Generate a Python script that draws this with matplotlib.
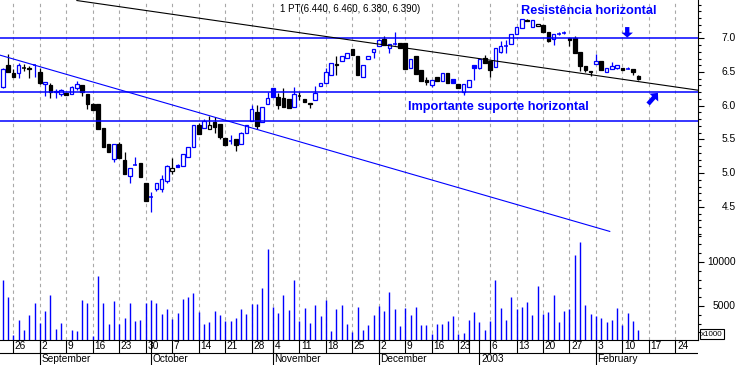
#!/usr/bin/env python3
"""
Grafico a candele giornaliere (ago 2002 - feb 2003) con i volumi sotto,
resistenza / supporto orizzontali e due linee di tendenza.
Salva la figura in out.png (738x365 px).
"""

import matplotlib
matplotlib.use("Agg")
import matplotlib.pyplot as plt
from matplotlib.patches import Rectangle

# --- DATI (una seduta per valore, indice 0 = 22 ago 2002) ---
opens = [6.27, 6.60, 6.49, 6.48, 6.56, 6.56, 6.60, 6.50, 6.32, 6.31,
         6.20, 6.17, 6.19, 6.18, 6.26, 6.31, 6.18, 6.03, 6.03, 5.67,
         5.43, 5.21, 5.43, 5.19, 4.96, 5.12, 5.15, 4.86, 4.64, 4.77,
         4.76, 4.89, 5.03, 5.12, 5.11, 5.24, 5.38, 5.71, 5.67, 5.65,
         5.76, 5.73, 5.52, 5.47, 5.50, 5.43, 5.60, 5.77, 5.90, 5.76,
         6.03, 6.26, 6.13, 6.11, 6.10, 5.98, 6.15, 6.10, 6.02, 6.09,
         6.29, 6.33, 6.45, 6.60, 6.66, 6.71, 6.84, 6.74, 6.43, 6.69,
         6.79, 6.89, 6.99, 6.85, 6.91, 6.93, 6.93, 6.56, 6.74, 6.53,
         6.38, 6.31, 6.43, 6.36, 6.48, 6.40, 6.32, 6.21, 6.27, 6.61,
         6.56, 6.71, 6.66, 6.57, 6.80, 6.88, 6.92, 7.06, 7.16, 7.27,
         7.17, 7.18, 7.20, 7.10, 6.99, 7.07, 7.08, 7.00, 7.00, 6.80,
         6.59, 6.50, 6.62, 6.66, 6.50, 6.55, 6.56, 6.56, 6.55, 6.55,
         6.44]
highs = [6.56, 6.76, 6.54, 6.64, 6.62, 6.59, 6.61, 6.56, 6.35, 6.33,
         6.25, 6.25, 6.19, 6.29, 6.37, 6.31, 6.18, 6.04, 6.03, 5.67,
         5.43, 5.43, 5.46, 5.32, 5.07, 5.24, 5.15, 4.86, 4.72, 4.86,
         4.97, 5.12, 5.23, 5.14, 5.29, 5.38, 5.72, 5.75, 5.80, 5.84,
         5.83, 5.73, 5.52, 5.56, 5.50, 5.61, 5.71, 6.01, 6.01, 5.98,
         6.20, 6.26, 6.19, 6.26, 6.10, 6.28, 6.21, 6.10, 6.04, 6.29,
         6.33, 6.56, 6.64, 6.73, 6.74, 6.78, 6.84, 6.74, 6.61, 6.74,
         6.84, 6.99, 7.04, 6.91, 7.10, 6.93, 6.93, 6.70, 6.74, 6.53,
         6.43, 6.38, 6.43, 6.48, 6.48, 6.40, 6.32, 6.32, 6.38, 6.61,
         6.70, 6.75, 6.66, 6.86, 6.96, 6.97, 7.06, 7.17, 7.28, 7.28,
         7.27, 7.21, 7.20, 7.10, 7.07, 7.10, 7.11, 7.00, 7.03, 6.80,
         6.59, 6.52, 6.76, 6.66, 6.56, 6.65, 6.61, 6.56, 6.58, 6.55,
         6.46]
lows = [6.26, 6.50, 6.42, 6.41, 6.52, 6.41, 6.43, 6.32, 6.15, 6.12,
        6.12, 6.15, 6.16, 6.17, 6.23, 6.15, 5.95, 5.93, 5.66, 5.39,
        5.32, 5.16, 5.22, 4.98, 4.85, 5.12, 4.94, 4.58, 4.42, 4.73,
        4.72, 4.86, 4.98, 5.09, 5.11, 5.24, 5.38, 5.58, 5.67, 5.65,
        5.60, 5.50, 5.42, 5.43, 5.33, 5.43, 5.60, 5.77, 5.66, 5.76,
        6.03, 6.13, 5.95, 5.98, 5.97, 5.98, 6.08, 6.06, 5.96, 6.09,
        6.29, 6.33, 6.45, 6.45, 6.66, 6.71, 6.75, 6.46, 6.43, 6.69,
        6.71, 6.89, 6.90, 6.78, 6.90, 6.86, 6.54, 6.56, 6.47, 6.36,
        6.31, 6.28, 6.37, 6.36, 6.33, 6.34, 6.26, 6.16, 6.27, 6.38,
        6.55, 6.64, 6.43, 6.57, 6.78, 6.78, 6.92, 7.06, 7.16, 7.25,
        7.17, 7.18, 7.10, 6.94, 6.90, 7.05, 7.06, 6.88, 6.78, 6.52,
        6.50, 6.44, 6.62, 6.53, 6.50, 6.55, 6.55, 6.53, 6.55, 6.46,
        6.38]
closes = [6.55, 6.50, 6.42, 6.60, 6.55, 6.54, 6.61, 6.34, 6.35, 6.21,
          6.22, 6.23, 6.16, 6.28, 6.32, 6.21, 6.02, 5.93, 5.66, 5.39,
          5.32, 5.43, 5.22, 4.98, 5.07, 5.13, 4.94, 4.58, 4.65, 4.86,
          4.91, 5.11, 5.07, 5.09, 5.29, 5.38, 5.72, 5.58, 5.77, 5.71,
          5.68, 5.53, 5.42, 5.48, 5.41, 5.60, 5.71, 5.95, 5.70, 5.98,
          6.12, 6.13, 6.01, 5.98, 5.97, 6.17, 6.14, 6.06, 6.04, 6.19,
          6.33, 6.50, 6.64, 6.62, 6.74, 6.78, 6.75, 6.46, 6.61, 6.74,
          6.84, 6.98, 6.90, 6.91, 6.92, 6.86, 6.54, 6.70, 6.47, 6.36,
          6.35, 6.38, 6.37, 6.48, 6.33, 6.34, 6.26, 6.32, 6.38, 6.56,
          6.70, 6.64, 6.53, 6.86, 6.88, 6.89, 7.06, 7.17, 7.28, 7.25,
          7.27, 7.21, 7.10, 6.96, 7.07, 7.08, 7.09, 6.97, 6.78, 6.59,
          6.53, 6.52, 6.66, 6.53, 6.56, 6.59, 6.60, 6.53, 6.56, 6.50,
          6.39]
volumes = [7990, 6060, 1740, 3440, 2310, 4010, 5380, 3100, 4470, 6280,
           2420, 3100, 1000, 2310, 2190, 5720, 5380, 1630, 8440, 5380,
           2990, 5600, 2990, 3670, 5380, 3330, 3440, 5380, 5720, 5380,
           4130, 4690, 3560, 4240, 5830, 6060, 6510, 4350, 2990, 3220,
           4470, 4010, 3330, 3330, 3670, 4690, 4130, 5260, 5260, 7080,
           11510, 4920, 4240, 6280, 4580, 7990, 3330, 4810, 3100, 5150,
           3900, 5720, 2190, 4690, 5150, 2990, 2080, 4920, 2310, 2880,
           4010, 5030, 4470, 6620, 4690, 2760, 4810, 4010, 4920, 2880,
           2880, 1850, 2990, 2990, 3330, 3900, 1850, 1970, 3440, 4350,
           3220, 2310, 3330, 7990, 4810, 3440, 6060, 4690, 4920, 5490,
           4010, 7310, 4130, 4350, 6280, 3220, 4470, 4690, 10830, 12300,
           5150, 4130, 3900, 3670, 3220, 3440, 4810, 2880, 4240, 3330,
           2310]

# prima seduta di ogni settimana (indice) e relativa etichetta
week_pos = [2, 7, 12, 17, 22, 27, 32, 37, 42, 47, 51, 56, 61, 66, 71, 76,
            81, 86, 88, 92, 97, 102, 107, 112, 117, 122, 127]
week_lbl = ["26", "2", "9", "16", "23", "30", "7", "14", "21", "28", "4",
            "11", "18", "25", "2", "9", "16", "23", "", "6", "13", "20",
            "27", "3", "10", "17", "24"]
month_pos = [7, 28, 51, 71, 90, 112]
month_lbl = ["September", "October", "November", "December", "2003", "February"]

# livelli e linee di tendenza (indice seduta, prezzo)
resistenza = 7.0
supporto = 6.2
livello_basso = 5.77
trend_nero = ([14.0, 131.26], [7.56, 6.23])
trend_blu = ([-0.52, 114.6], [6.75, 4.135])

price_ticks = [4.5, 5.0, 5.5, 6.0, 6.5, 7.0]
vol_ticks = [5000, 10000]

BLU = "#0000ff"
GRIGIO = "#a8a8a8"

plt.rcParams["font.family"] = ["Liberation Sans", "DejaVu Sans"]

W, H = 738, 365
fig = plt.figure(figsize=(W / 100, H / 100), dpi=100)
ax = fig.add_axes([0, 25 / H, 698 / W, 340 / H])
ax_d = fig.add_axes([0, 0, 698 / W, 25 / H], sharex=ax)
ax_v = ax.twinx()

ax.set_xlim(-0.517, 131.26)
ax.set_ylim(2.524, 7.568)
ax_v.set_ylim(1136, 39800)

# griglia verticale settimanale
for p, lbl in zip(week_pos, week_lbl):
    if lbl:
        ax.axvline(p, color=GRIGIO, lw=0.8, ls=(0, (3, 3)), zorder=0.5)

# candele: piena se chiusura < apertura, blu se chiusura >= chiusura precedente
w = 0.68
for i in range(len(closes)):
    o, h, l, c = opens[i], highs[i], lows[i], closes[i]
    col = BLU if i == 0 or c >= closes[i - 1] else "black"
    ax.vlines(i, l, h, color=col, lw=0.9, zorder=3)
    if abs(c - o) < 0.012:
        ax.hlines(o, i - w / 2, i + w / 2, color=col, lw=1.1, zorder=4)
    else:
        face = col if c < o else "white"
        ax.add_patch(Rectangle((i - w / 2, min(o, c)), w, abs(c - o),
                               facecolor=face, edgecolor=col, lw=0.9, zorder=4))

# livelli orizzontali e linee di tendenza
for lev in [resistenza, supporto, livello_basso]:
    ax.axhline(lev, color=BLU, lw=1.1, zorder=5)
ax.plot(*trend_nero, color="black", lw=0.8, zorder=5)
ax.plot(*trend_blu, color=BLU, lw=0.8, zorder=5)

# volumi
ax_v.vlines(range(len(volumes)), 0, volumes, color=BLU, lw=1.0)

# asse destro: tacche e etichette
for a, major, minor in [(ax, price_ticks, [x / 10 for x in range(41, 76)]),
                        (ax_v, vol_ticks, list(range(2000, 13001, 1000)))]:
    a.yaxis.set_ticks_position("right")
    a.set_yticks(major)
    a.set_yticks([m for m in minor if m not in major], minor=True)
    a.tick_params(axis="y", which="major", direction="out", length=4.3,
                  width=0.8, labelright=False, labelleft=False)
    a.tick_params(axis="y", which="minor", direction="out", length=2.2,
                  width=0.8, labelright=False, labelleft=False)
    for s in ["top", "left"]:
        a.spines[s].set_visible(False)
ax_v.spines["bottom"].set_visible(False)
ax_v.spines["right"].set_visible(False)
ax.spines["right"].set_linewidth(0.8)
ax.spines["bottom"].set_linewidth(0.8)
ax.set_xticks([])

for v in price_ticks:
    ax.text(1.0544, v, f"{v:.1f}", transform=ax.get_yaxis_transform(),
            ha="right", va="center", fontsize=7.4)
for v in vol_ticks:
    ax_v.text(1.0544, v, f"{v}", transform=ax_v.get_yaxis_transform(),
              ha="right", va="center", fontsize=7.4)
fig.text(701 / W, 1 - 334 / H, "x1000", fontsize=5.8, ha="left", va="center",
         bbox=dict(boxstyle="square,pad=0.15", fc="white", ec="black", lw=0.8))

# righe delle date
ax_d.set_ylim(0, 25)
ax_d.axis("off")
ax_d.axhline(12.4, color="black", lw=0.8)
ax_d.vlines(week_pos, 12.4, 25, color="black", lw=0.8)
ax_d.vlines(month_pos, 0, 25, color="black", lw=0.8)
for p, lbl in zip(week_pos, week_lbl):
    ax_d.text(p + 0.3, 18.6, lbl, fontsize=7.3, ha="left", va="center")
for p, lbl in zip(month_pos, month_lbl):
    ax_d.text(p + 0.3, 5.9, lbl, fontsize=7.3, ha="left", va="center")

# testi e frecce
fig.text(279.5 / W, 1 - 12.3 / H,
         f"1 PT({opens[-1]:.3f}, {highs[-1]:.3f}, {lows[-1]:.3f}, {closes[-1]:.3f})",
         fontsize=7, ha="left", va="baseline")
bold = dict(family=["Liberation Sans", "DejaVu Sans"],
            fontweight="bold", color=BLU, fontsize=9.15, ha="left", va="baseline")
fig.text(520.7 / W, 1 - 14.3 / H, "Resistência horizontal", **bold)
fig.text(407.5 / W, 1 - 109.5 / H, "Importante suporte horizontal", **bold)

ax.annotate("", xy=(117.9, 7.01), xytext=(0, 7.6), textcoords="offset points",
            arrowprops=dict(arrowstyle="simple,head_length=0.36,head_width=0.82,tail_width=0.31",
                            mutation_scale=10, color=BLU, lw=0, shrinkA=0, shrinkB=0),
            zorder=6)
ax.annotate("", xy=(123.7, 6.19), xytext=(-7.1, -8.0), textcoords="offset points",
            arrowprops=dict(arrowstyle="simple,head_length=0.45,head_width=0.85,tail_width=0.32",
                            mutation_scale=10, color=BLU, lw=0, shrinkA=0, shrinkB=0),
            zorder=6)

fig.savefig("out.png", dpi=100)
